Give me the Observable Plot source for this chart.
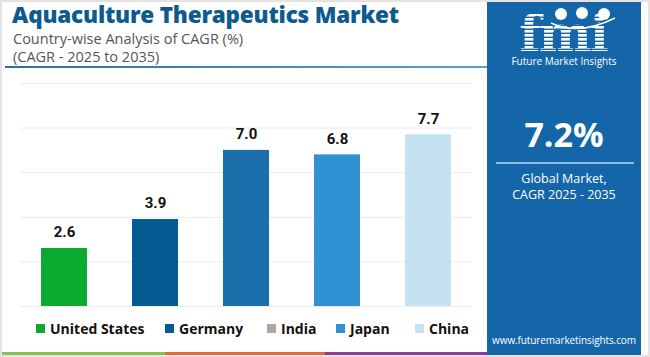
<!DOCTYPE html>
<html>
<head>
<meta charset="utf-8">
<script src="https://cdn.jsdelivr.net/npm/d3@7"></script>
<script src="https://cdn.jsdelivr.net/npm/@observablehq/plot@0.6"></script>
<style>
  html, body { margin: 0; padding: 0; background: #fff; }
  #wrap { position: relative; width: 650px; height: 357px; overflow: hidden; background: #fff; font-family: "Open Sans", sans-serif; }
  #border { position: absolute; left: 0; top: 0; width: 646px; height: 353px; border: 2px solid #e3e3e3; pointer-events: none; }
  #title { position: absolute; left: 12px; top: 2px; font-family: "Open Sans", sans-serif; font-weight: 800; font-size: 22.5px; line-height: 26px; color: #0d5a8f; letter-spacing: -0.2px; white-space: nowrap; }
  .sub { position: absolute; left: 13px; font-size: 14.5px; line-height: 18px; color: #555; white-space: nowrap; }
  #rule { position: absolute; left: 5px; top: 66px; width: 482px; height: 2px; background: linear-gradient(90deg, #2f6f9f, #5b9fd0); }
  #plot { position: absolute; left: 0; top: 70px; }
  #legend { position: absolute; left: 0; top: 318px; height: 20px; width: 487px; }
  .li { position: absolute; top: 0; display: flex; align-items: center; height: 20px; font-weight: 700; font-size: 14px; color: #111; white-space: nowrap; }
  .sw { width: 9px; height: 9px; margin-right: 5px; }
  .strip { position: absolute; top: 352px; height: 5px; }
  #panel { position: absolute; left: 487px; top: 2px; width: 154px; height: 355px; background: #1466a8; color: #fff; text-align: center; }
  #big { position: absolute; left: 0; width: 154px; top: 110px; font-weight: 700; font-size: 34px; line-height: 44px; }
  #pline { position: absolute; left: 9px; top: 160px; width: 138px; height: 2px; background: #8cbbe0; }
  #gm { position: absolute; left: 0; width: 154px; top: 169px; font-size: 12.5px; line-height: 16px; }
  #url { position: absolute; left: 0; width: 154px; top: 331px; font-size: 10px; white-space: nowrap; letter-spacing: -0.1px; }
  #fmitag { position: absolute; left: 0; width: 154px; top: 53px; font-size: 10px; line-height: 13px; text-align: center; white-space: nowrap; }
</style>
</head>
<body>
<div id="wrap">
  <div id="title">Aquaculture Therapeutics Market</div>
  <div class="sub" style="top:30px">Country-wise Analysis of CAGR (%)</div>
  <div class="sub" style="top:48px">(CAGR - 2025 to 2035)</div>
  <div id="rule"></div>
  <div id="plot"></div>
  <div id="legend"></div>
  <div class="strip" style="left:2px;width:163px;background:#8cc152"></div>
  <div class="strip" style="left:165px;width:160px;background:#e8673a"></div>
  <div class="strip" style="left:325px;width:162px;background:#8e3c97"></div>
  <div id="panel">
    <svg width="154" height="66" style="position:absolute;left:0;top:0;overflow:visible">
      <defs>
        <pattern id="stripes" width="4" height="4" patternUnits="userSpaceOnUse">
          <rect width="4" height="2.6" fill="#fff"></rect>
        </pattern>
      </defs>
      <text x="76" y="49" text-anchor="middle" font-family="DejaVu Serif" font-weight="700" font-size="50" fill="url(#stripes)" letter-spacing="-2">fmi</text>
      <circle cx="74" cy="12" r="6" fill="#fff"></circle>
      <circle cx="95" cy="11" r="6" fill="#fff"></circle>
      <circle cx="117" cy="12" r="6" fill="#fff"></circle>
      <path d="M64,21 Q92,34 128,16" stroke="#fff" stroke-width="1.5" fill="none"></path>
    </svg>
    <div id="fmitag">Future Market Insights</div>
    <div id="big">7.2%</div>
    <div id="pline"></div>
    <div id="gm">Global Market,<br>CAGR 2025 - 2035</div>
    <div id="url">www.futuremarketinsights.com</div>
  </div>
  <div id="border"></div>
</div>
<script>
const countries = ["United States", "Germany", "India", "Japan", "China"];
const cagr = [2.6, 3.9, 7.0, 6.8, 7.7];
const barColors = ["#0aaa30", "#045a91", "#1b70ab", "#3192d3", "#c5e2f2"];
const legendColors = ["#0aaa30", "#045a91", "#a8a8a8", "#3192d3", "#c5e2f2"];
const yTicks = [0, 2, 4, 6, 8, 10];

const data = countries.map((c, i) => ({country: c, value: cagr[i]}));

const chart = Plot.plot({
  width: 487,
  height: 240,
  marginLeft: 20,
  marginRight: 15,
  marginTop: 13,
  marginBottom: 4,
  x: {domain: countries, paddingInner: 0.5, paddingOuter: 0.23, axis: null},
  y: {domain: [0, 10], ticks: yTicks, axis: null},
  color: {domain: countries, range: barColors},
  marks: [
    Plot.ruleY(yTicks, {stroke: "#ececec", strokeWidth: 1}),
    Plot.barY(data, {x: "country", y: "value", fill: "country"}),
    Plot.text(data, {x: "country", y: "value", text: d => d.value.toFixed(1), dy: -16,
      fontSize: 15, fontWeight: 700, fill: "#111", fontFamily: "Roboto, sans-serif"})
  ],
  style: {background: "transparent", overflow: "visible"}
});
document.getElementById("plot").appendChild(chart);

const legendX = [36, 165, 267, 336, 415];
const lg = document.getElementById("legend");
countries.forEach((c, i) => {
  const item = document.createElement("div");
  item.className = "li";
  item.style.left = legendX[i] + "px";
  const sw = document.createElement("div");
  sw.className = "sw";
  sw.style.background = legendColors[i];
  item.appendChild(sw);
  item.appendChild(document.createTextNode(c));
  lg.appendChild(item);
});
</script>
</body>
</html>
